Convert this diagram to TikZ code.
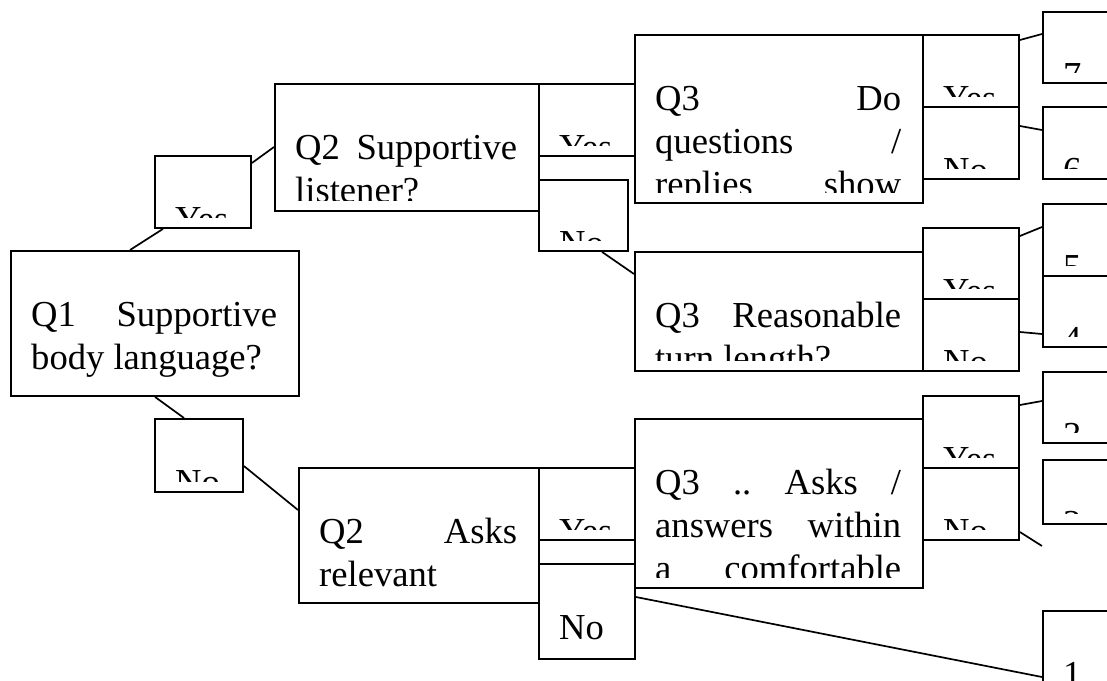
\documentclass[tikz,border=0pt]{standalone}
\usepackage{fontspec}
\setmainfont{Liberation Serif}
\usepackage{tikz}
\usetikzlibrary{calc}

% text of a box, cut off at the inner margin like the original
\newcommand{\boxtext}[3]{%
  \begin{scope}
    \clip ([yshift=-11pt]#1.north west) rectangle ([yshift=11pt]#1.south east);
    \node[txt] (#1-text) at ([shift={(21pt,-76pt)}]#1.north west)
      {\parbox[t]{#2}{\raggedright #3}};
  \end{scope}}

\begin{document}
\begin{tikzpicture}[
    x=1pt, y=-1pt,
    every node/.style={font={\fontsize{36.6}{43}\selectfont}},
    box/.style={draw, line width=1.9pt, anchor=north west, inner sep=0pt},
    txt/.style={anchor=base west, inner sep=0pt},
    link/.style={line width=1.7pt},
]
    \clip (0,0) rectangle (1107,680);

    % question boxes
    \node[box, minimum width=288pt, minimum height=145pt] (q1) at (10,250) {};
    \node[box, minimum width=264pt, minimum height=127pt] (q2a) at (274,83) {};
    \node[box, minimum width=240pt, minimum height=135pt] (q2b) at (298,467) {};
    \node[box, minimum width=288pt, minimum height=168pt] (q3a) at (634,34) {};
    \node[box, minimum width=288pt, minimum height=119pt] (q3b) at (634,251) {};
    \node[box, minimum width=288pt, minimum height=169pt] (q3c) at (634,418) {};

    % yes / no boxes
    \node[box, minimum width=96pt, minimum height=72pt] (yA) at (154,155) {};
    \node[box, minimum width=88pt, minimum height=73pt] (nA) at (154,418) {};
    \node[box, minimum width=96pt, minimum height=72pt] (yB) at (538,83) {};
    \node[box, minimum width=89pt, minimum height=71pt] (nB) at (538,179) {};
    \node[box, minimum width=96pt, minimum height=72pt] (yE) at (538,467) {};
    \node[box, minimum width=96pt, minimum height=95pt] (nE) at (538,563) {};
    \node[box, minimum width=96pt, minimum height=72pt] (yC) at (922,34) {};
    \node[box, minimum width=96pt, minimum height=72pt] (nC) at (922,106) {};
    \node[box, minimum width=96pt, minimum height=71pt] (yD) at (922,227) {};
    \node[box, minimum width=96pt, minimum height=72pt] (nD) at (922,298) {};
    \node[box, minimum width=96pt, minimum height=72pt] (yF) at (922,395) {};
    \node[box, minimum width=96pt, minimum height=72pt] (nF) at (922,467) {};

    % scores
    \node[box, minimum width=100pt, minimum height=71pt] (l7) at (1042,11) {};
    \node[box, minimum width=100pt, minimum height=72pt] (l6) at (1042,106) {};
    \node[box, minimum width=100pt, minimum height=72pt] (l5) at (1042,203) {};
    \node[box, minimum width=100pt, minimum height=71pt] (l4) at (1042,275) {};
    \node[box, minimum width=100pt, minimum height=71pt] (l3) at (1042,371) {};
    \node[box, minimum width=100pt, minimum height=64pt] (l2) at (1042,459) {};
    \node[box, minimum width=100pt, minimum height=100pt] (l1) at (1042,610) {};
    \coordinate (nFend) at (1042,546);

    \boxtext{q1}{246pt}{Q1\hfill Supportive\\ body language?}
    \boxtext{q2a}{222pt}{Q2\hfill Supportive\\ listener?}
    \boxtext{q2b}{198pt}{Q2\hfill Asks\\ relevant}
    \boxtext{q3a}{246pt}{Q3\hfill Do\\ questions\hfill /\\ replies\hfill show}
    \boxtext{q3b}{246pt}{Q3\hfill Reasonable\\ turn length?}
    \boxtext{q3c}{246pt}{Q3\hfill ..\hfill Asks\hfill /\\ answers\hfill within\\ a\hfill comfortable}

    \boxtext{yA}{54pt}{Yes}
    \boxtext{nA}{46pt}{No}
    \boxtext{yB}{54pt}{Yes}
    \boxtext{nB}{47pt}{No}
    \boxtext{yE}{54pt}{Yes}
    \boxtext{nE}{54pt}{No}
    \boxtext{yC}{54pt}{Yes}
    \boxtext{nC}{54pt}{No}
    \boxtext{yD}{54pt}{Yes}
    \boxtext{nD}{54pt}{No}
    \boxtext{yF}{54pt}{Yes}
    \boxtext{nF}{54pt}{No}

    \boxtext{l7}{58pt}{7}
    \boxtext{l6}{58pt}{6}
    \boxtext{l5}{58pt}{5}
    \boxtext{l4}{58pt}{4}
    \boxtext{l3}{58pt}{3}
    \boxtext{l2}{58pt}{2}
    \boxtext{l1}{58pt}{1}

    % connectors
    \draw[link] ($(q1.north west)+(120,0)$) -- ($(yA.south west)+(9,0)$);
    \draw[link] ($(yA.north east)+(0,8)$) -- ($(q2a.north west)+(0,64)$);
    \draw[link] ($(q1.south west)+(145,0)$) -- ($(nA.north west)+(30,0)$);
    \draw[link] ($(nA.north east)+(0,48)$) -- ($(q2b.north west)+(0,43)$);
    \draw[link] ($(nB.south west)+(64,0)$) -- ($(q3b.north west)+(0,23)$);
    \draw[link] ($(yC.north east)+(0,6)$) -- ($(l7.north west)+(0,23)$);
    \draw[link] ($(nC.north east)+(0,20)$) -- ($(l6.north west)+(0,24)$);
    \draw[link] ($(yD.north east)+(0,9)$) -- ($(l5.north west)+(0,24)$);
    \draw[link] ($(nD.north east)+(0,34)$) -- ($(l4.north west)+(0,59)$);
    \draw[link] ($(yF.north east)+(0,10)$) -- ($(l3.north west)+(0,30)$);
    \draw[link] ($(nF.north east)+(0,65)$) -- (nFend);
    \draw[link] ($(nE.north east)+(0,34)$) -- ($(l1.north west)+(0,67)$);
\end{tikzpicture}
\end{document}
